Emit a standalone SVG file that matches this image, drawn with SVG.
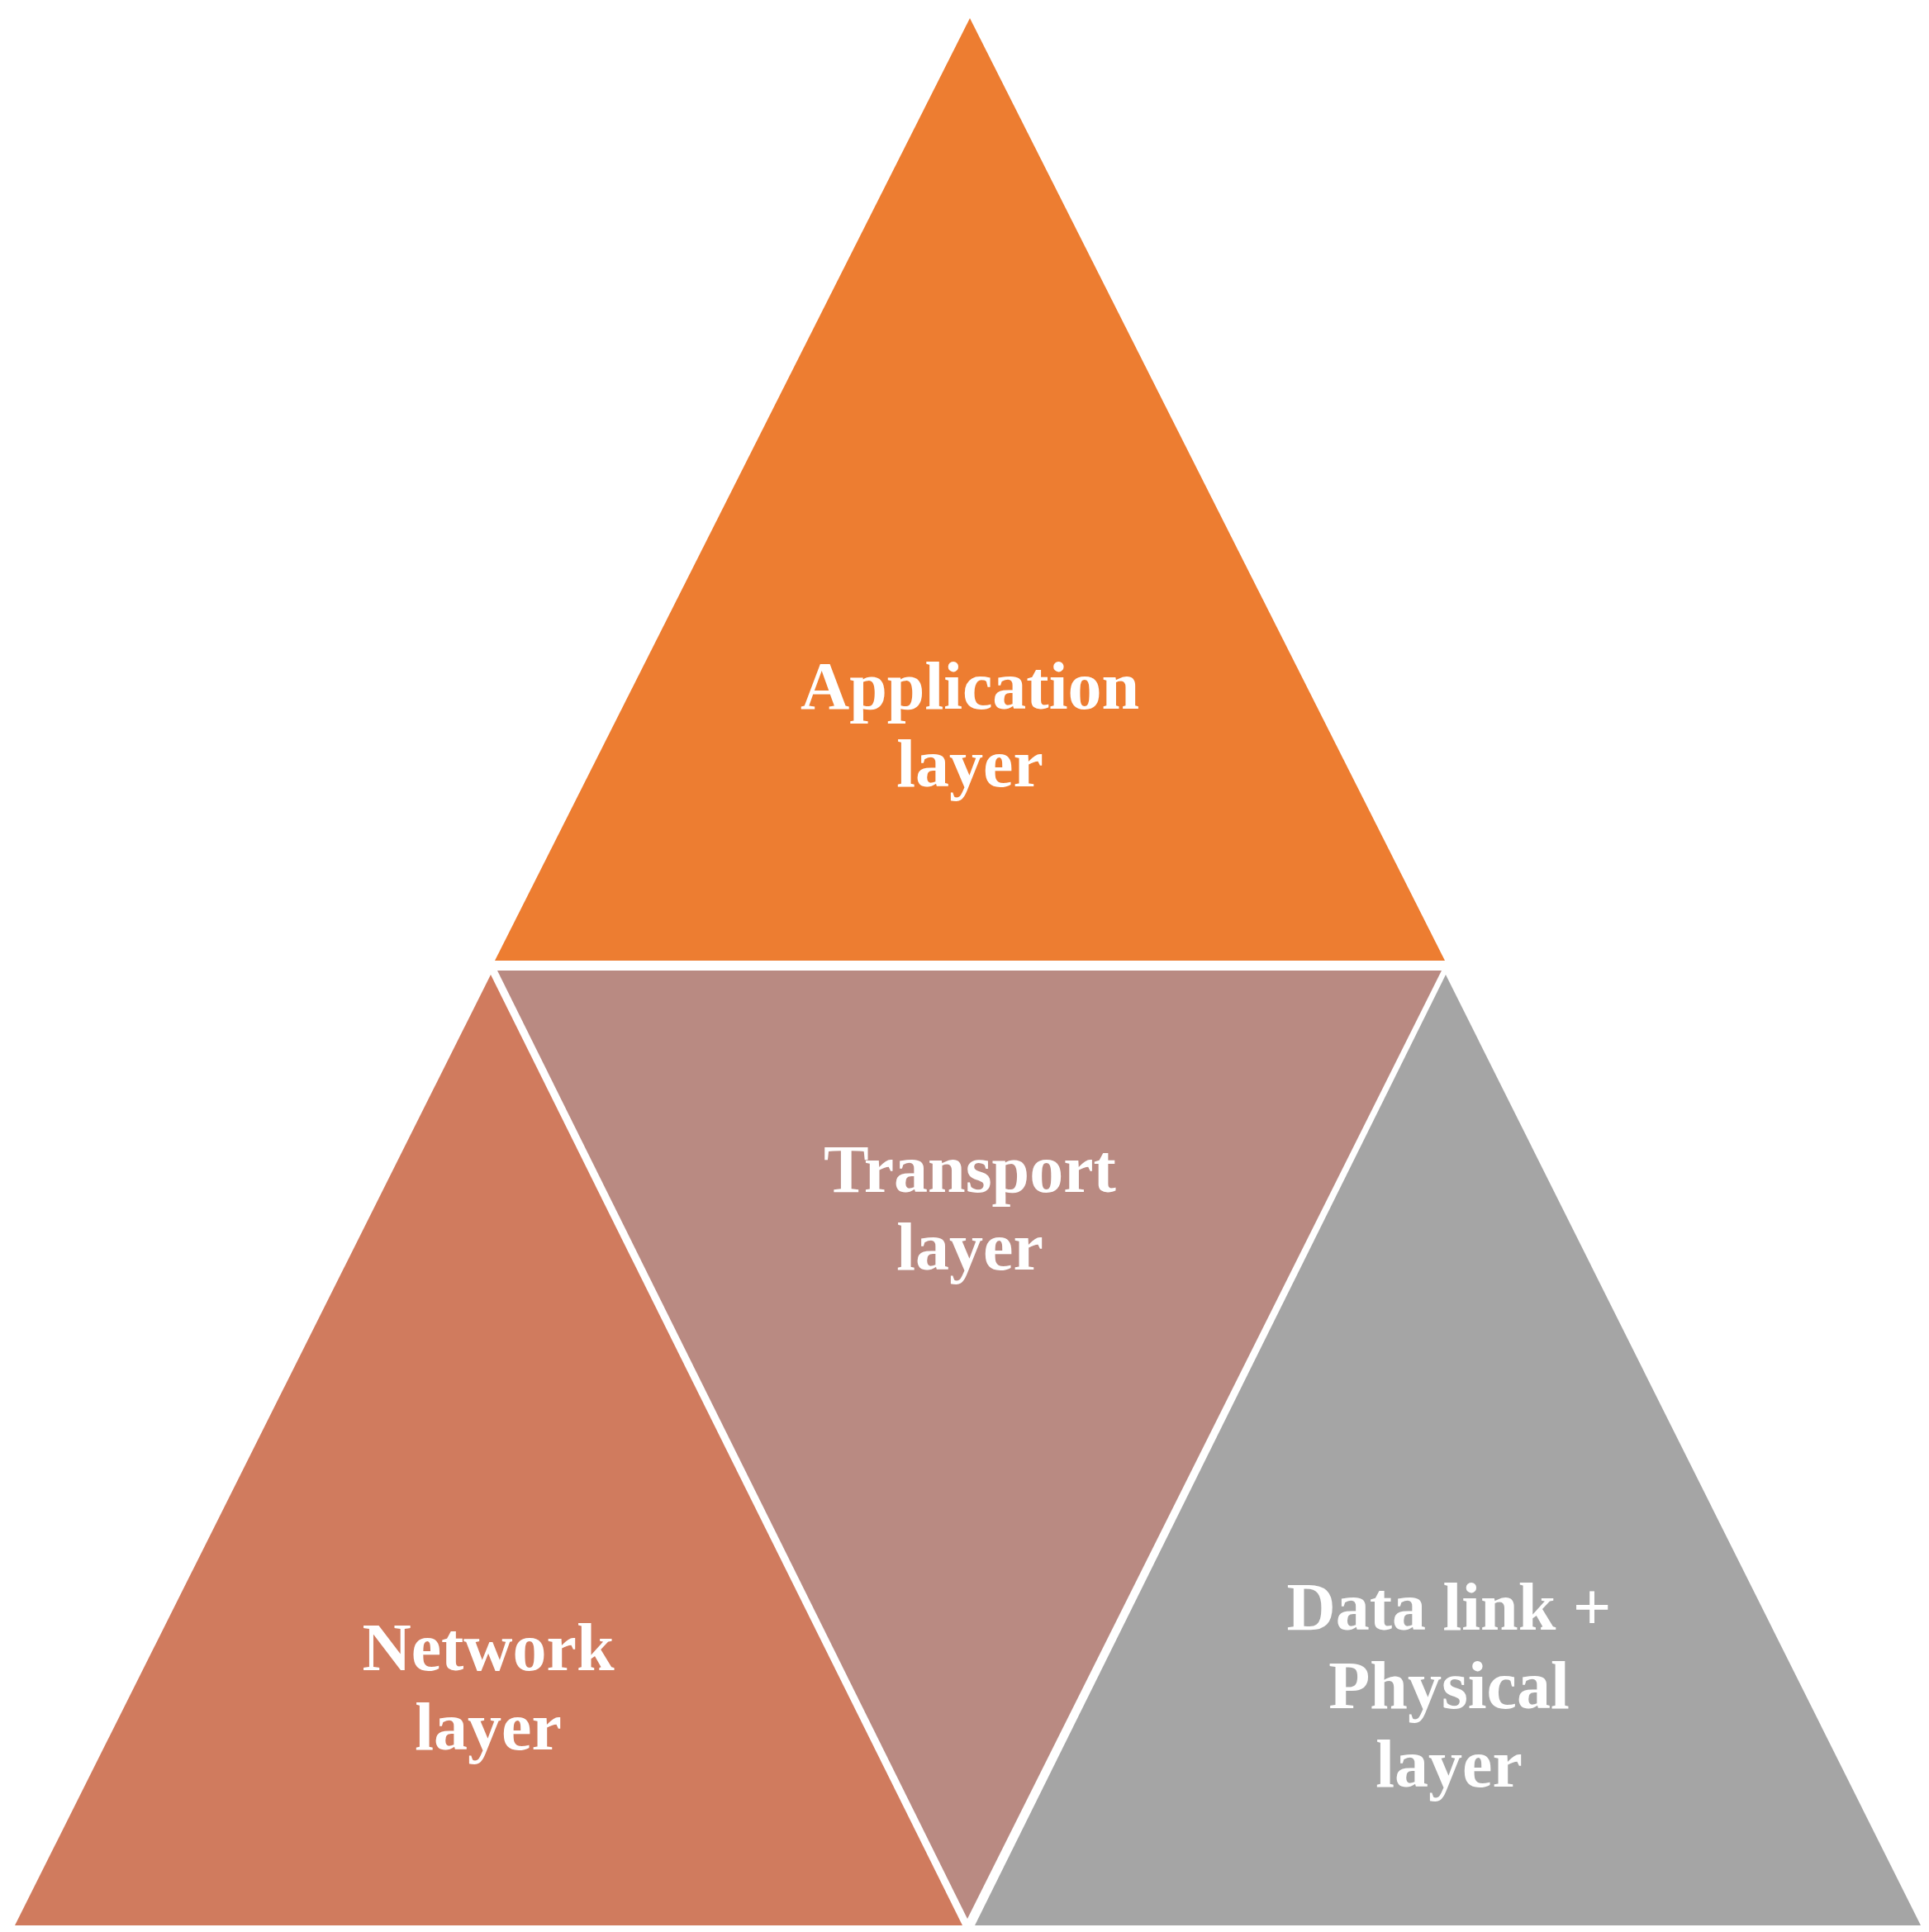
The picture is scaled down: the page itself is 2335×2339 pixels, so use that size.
<svg xmlns="http://www.w3.org/2000/svg" width="2335" height="2339" viewBox="0 0 2335 2339">
<style>
.t{font-family:"Liberation Serif",serif;font-weight:bold;font-size:82px;fill:#fff;text-anchor:middle}
</style>
<rect width="2335" height="2339" fill="#fff"/>
<g id="application"><polygon points="1174,22 599,1163 1749,1163" fill="#ED7D31"/>
<text class="t" x="1174" y="858">Application</text><text class="t" x="1174" y="952">layer</text></g>
<g id="network"><polygon points="594,1180 18,2331 1165,2331" fill="#D07B5E"/>
<text class="t" x="591" y="2022">Network</text><text class="t" x="591" y="2118">layer</text></g>
<g id="transport"><polygon points="602,1175 1745,1175 1171,2323" fill="#B98A82"/>
<text class="t" x="1174" y="1443">Transport</text><text class="t" x="1174" y="1537">layer</text></g>
<g id="datalink"><polygon points="1750,1180 1180,2331 2325,2331" fill="#A5A5A5"/>
<text class="t" x="1754" y="1973">Data link +</text><text class="t" x="1754" y="2068">Physical</text><text class="t" x="1754" y="2163">layer</text></g>
<g id="connectors"/>
</svg>
